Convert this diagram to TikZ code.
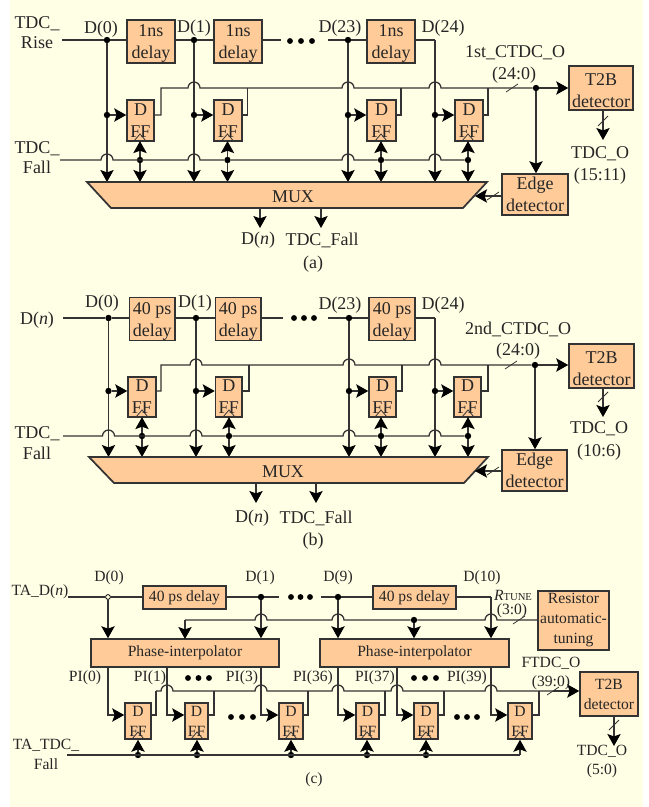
\documentclass[tikz,border=0pt]{standalone}
\usepackage{fontspec}
\setmainfont{Liberation Serif}
\usetikzlibrary{arrows.meta}
\definecolor{bgc}{HTML}{FFFFE6}
\definecolor{boxc}{HTML}{FFCC99}
\definecolor{wirec}{HTML}{333333}
\newcommand\fa{\fontsize{13.5}{16.6}\selectfont}
\newcommand\fc{\fontsize{11.7}{15}\selectfont}
\newcommand\lowr{\rule{0pt}{12.5pt}}
\tikzset{
 x=0.75pt,y=-0.75pt,
 wire/.style={draw=wirec,line width=0.95pt},
 arr/.style={wire,-{Stealth[length=9pt,width=10pt,inset=1.8pt,color=black]}},
 thin wire/.style={draw=wirec,line width=0.6pt},
 dot/.style={circle,fill=black,inner sep=0pt,minimum size=4.8pt},
 odot/.style={circle,draw=black,fill=bgc,inner sep=0pt,minimum size=3.6pt,line width=0.6pt},
 box/.style={draw=wirec,fill=boxc,line width=1.15pt,inner sep=0pt,align=center,text=black!85},
 lab/.style={inner sep=0pt,align=center,text=black!85},
}
% \bx[font]{name}{x1}{y1}{x2}{y2}{text}
\newcommand\bx[6][\fa]{\node[box,font=#1,minimum width={(#5-#3)*0.75pt},minimum height={(#6-#4)*0.75pt}] (#2) at ({(#3+#5)/2},{(#4+#6)/2}) {\bxtext};}
\newcommand\hop[2]{-- ({#1-6},#2) arc[start angle=180,end angle=0,radius=4.5pt]}
\newcommand\busslash[2]{\draw[thin wire] ({#1-6},{#2+4}) -- ({#1+6},{#2-4});}
\newcommand\vslash[2]{\draw[thin wire] ({#1-5},{#2+5}) -- ({#1+5},{#2-5});}
\newcommand\dd[3]{\fill (#1,#3) circle (2.2pt) (#2,#3) circle (2.2pt) ({(#1+#2)/2},#3) circle (2.2pt);}
% one flip-flop slice of panels (a) and (b)
\newcommand\slice[7]{% prefix, index, vx, left, right, jog, clock
 \def\bxtext{D\\FF}\bx{#1ff#2}{#4}{\ytop}{#5}{\ybot}
 \draw[thin wire] ({#7-6},\ybot) -- (#7,{\ybot-7}) -- ({#7+6},\ybot);
 \node[dot] (#1in#2) at (#3,\yin) {};
 \draw[arr] (#1in#2) -- (#1ff#2.west |- #1in#2);
 \coordinate (#1q#2) at (#1ff#2.east |- #1in#2);
 \node[dot] (#1ck#2) at (#7,\yfall) {};
 \draw[arr,shorten >=-0.5pt] (#1ck#2) -- (#1ff#2.south -| #1ck#2);
 \draw[arr] (#1ck#2) -- (#7,\ymux);
 \draw[arr] (#3,\yfall) -- (#3,\ymux);
}
\begin{document}
\begin{tikzpicture}
\useasboundingbox (0,0) rectangle (649,807);
\fill[white] (0,0) rectangle (649,807);
\fill[bgc] (10,0) rectangle (643,807);

%%%%%% panel (a)
\def\ytop{100}\def\ybot{141}\def\yin{115}\def\yfall{160}\def\ymux{182}
\def\bxtext{\lowr 1ns\\delay}
\bx{ad0}{127}{21}{175}{62}
\bx{ad1}{214}{21}{262}{62}
\bx{ad2}{367}{21}{415}{62}
\node[dot] (aj0) at (107,40) {};
\node[dot] (aj1) at (194,40) {};
\node[dot] (aj2) at (348,40) {};
\coordinate (ais) at (62,40);
\coordinate (ae1) at (281,40);
\coordinate (as2) at (328,40);
\coordinate (ac3) at (435,40);
\draw[wire] (ais) -- (aj0) -- (ad0.west |- aj0);
\draw[wire] (ad0.east |- aj0) -- (aj1) -- (ad1.west |- aj1);
\draw[wire] (ad1.east |- aj1) -- (ae1);
\draw[wire] (as2) -- (aj2) -- (ad2.west |- aj2);
\draw[wire] (ad2.east |- aj2) -- (ac3);
\draw[wire] (aj0) -- (107,160);
\draw[wire] (aj1) -- (194,160);
\draw[wire] (aj2) -- (348,160);
\draw[wire] (ac3) -- (435,160);
\dd{290}{312}{41}
\slice{a}{0}{107}{127}{154}{161}{140}
\slice{a}{1}{194}{214}{242}{247.5}{227.5}
\slice{a}{2}{348}{367}{396}{401}{381}
\slice{a}{3}{435}{455}{483}{488}{468}
\def\bxtext{\lowr T2B\\detector}\bx{at2b}{569}{66}{633}{110}
\def\bxtext{Edge\\detector}\bx{aedge}{502}{174}{568}{215}
\node[dot] (abus) at (536,88) {};
\draw[wire] (aq0) -- (161,115) -- (161,88) \hop{194}{88} \hop{348}{88} \hop{435}{88} -- (abus);
\draw[arr] (abus) -- (at2b.west |- abus);
\draw[wire] (aq1) -- (247.5,115) -- (247.5,88);
\draw[wire] (aq2) -- (401,115) -- (401,88);
\draw[wire] (aq3) -- (488,115) -- (488,88);
\draw[arr] (abus) -- (aedge.north -| abus);
\busslash{512}{88}
\coordinate (afs) at (60,160);
\draw[wire] (afs) \hop{107}{160} \hop{194}{160} -- (ack1);
\draw[wire] (ack1) \hop{348}{160} -- (ack2);
\draw[wire] (ack2) \hop{435}{160} -- (ack3);
\draw[wire,draw=wirec,fill=boxc,line width=1.3pt] (87,182) coordinate (amtl) -- (487,182) coordinate (amtr) -- (463,208) coordinate (ambr) -- (111,208) coordinate (ambl) -- cycle;
\node[lab,font=\fa] (amux) at (293,197) {MUX};
\coordinate (aedgein) at (475,196);
\draw[arr] (aedge.west |- aedgein) -- (aedgein);
\busslash{493}{196}
\coordinate (ao1) at (260,228); \coordinate (ao2) at (321,228);
\draw[arr] (260,208) -- (ao1);
\draw[arr] (321,208) -- (ao2);
\draw[arr] (at2b.south -| 603,110) -- (603,140);
\vslash{603}{121}
\foreach \t/\xx/\yy in {TDC\_/37/24,Rise/37/43,TDC\_/37/149,Fall/37/167,D(0)/101/29,D(1)/194/28,D(23)/340/28,D(24)/443/28,1st\_CTDC\_O/515/53,(24:0)/514/75,TDC\_O/600/154,(15:11)/600/176,TDC\_Fall/322/240,(a)/313/264}
 \node[lab,font=\fa] at (\xx,\yy) {\t};
\node[lab,font=\fa] at (258,240) {D(\textit{n})};

%%%%%% panel (b)
\def\ytop{377}\def\ybot{417}\def\yin{391}\def\yfall{436}\def\ymux{457}
\def\bxtext{\lowr 40 ps\\delay}
\bx{bd0}{129.5}{299}{175}{339}
\bx{bd1}{215.5}{299}{261}{339}
\bx{bd2}{369}{299}{415}{339}
\node[dot] (bj0) at (108.5,318) {};
\node[dot] (bj1) at (196,318) {};
\node[dot] (bj2) at (349,318) {};
\coordinate (bis) at (63,318);
\coordinate (be1) at (283,318);
\coordinate (bs2) at (328,318);
\coordinate (bc3) at (435,318);
\draw[wire] (bis) -- (bj0) -- (bd0.west |- bj0);
\draw[wire] (bd0.east |- bj0) -- (bj1) -- (bd1.west |- bj1);
\draw[wire] (bd1.east |- bj1) -- (be1);
\draw[wire] (bs2) -- (bj2) -- (bd2.west |- bj2);
\draw[wire] (bd2.east |- bj2) -- (bc3);
\draw[wire] (bj0) -- (108.5,436);
\draw[wire] (bj1) -- (196,436);
\draw[wire] (bj2) -- (349,436);
\draw[wire] (bc3) -- (435,436);
\dd{294}{314}{318}
\slice{b}{0}{108.5}{128}{156}{161}{142}
\slice{b}{1}{196}{215.5}{242}{249}{229}
\slice{b}{2}{349}{369}{396}{402}{381}
\slice{b}{3}{435}{454}{481}{488}{468}
\def\bxtext{\lowr T2B\\detector}\bx{bt2b}{569}{344}{634}{388}
\def\bxtext{Edge\\detector}\bx{bedge}{502}{450}{567}{491}
\node[dot] (bbus) at (535,365) {};
\draw[wire] (bq0) -- (161,391) -- (161,365) \hop{196}{365} \hop{349}{365} \hop{435}{365} -- (bbus);
\draw[arr] (bbus) -- (bt2b.west |- bbus);
\draw[wire] (bq1) -- (249,391) -- (249,365);
\draw[wire] (bq2) -- (402,391) -- (402,365);
\draw[wire] (bq3) -- (488,391) -- (488,365);
\draw[arr] (bbus) -- (bedge.north -| bbus);
\busslash{511}{365}
\coordinate (bfs) at (63,436);
\draw[wire] (bfs) \hop{108.5}{436} \hop{196}{436} -- (bck1);
\draw[wire] (bck1) \hop{349}{436} -- (bck2);
\draw[wire] (bck2) \hop{435}{436} -- (bck3);
\draw[wire,draw=wirec,fill=boxc,line width=1.3pt] (89,457) coordinate (bmtl) -- (488,457) coordinate (bmtr) -- (464,483) coordinate (bmbr) -- (114,483) coordinate (bmbl) -- cycle;
\node[lab,font=\fa] (bmux) at (283,472) {MUX};
\coordinate (bedgein) at (475,471);
\draw[arr] (bedge.west |- bedgein) -- (bedgein);
\busslash{493}{471}
\coordinate (bo1) at (256,503); \coordinate (bo2) at (316,503);
\draw[arr] (256,483) -- (bo1);
\draw[arr] (316,483) -- (bo2);
\draw[arr] (603,388) -- (603,417);
\vslash{603}{397}
\foreach \t/\xx/\yy in {TDC\_/37/434,Fall/37/453,D(0)/102/303,D(1)/195/303,D(23)/340/305,D(24)/443/305,2nd\_CTDC\_O/518/329,(24:0)/518/351,TDC\_O/599/429,(10:6)/599/452,TDC\_Fall/316/518,(b)/313/541}
 \node[lab,font=\fa] at (\xx,\yy) {\t};
\node[lab,font=\fa] at (37,320) {D(\textit{n})};
\node[lab,font=\fa] at (252,518) {D(\textit{n})};

%%%%%% panel (c)
\def\bxtext{40 ps delay}
\bx[\fc]{cd0}{143}{586}{226}{609}
\bx[\fc]{cd1}{373}{586}{456}{609}
\def\bxtext{Phase-interpolator}
\bx[\fc]{cpi0}{91}{639}{279}{667}
\bx[\fc]{cpi1}{320}{639}{509}{667}
\def\bxtext{Resistor\\automatic-\\tuning}\bx[\fc]{cres}{538}{591}{609}{650}
\def\bxtext{T2B\\detector}\bx[\fc]{ct2b}{580}{672}{638}{716}
\coordinate (cis) at (68,597);
\node[odot] (cj0) at (108,597) {};
\node[dot] (cj1) at (261,597) {};
\coordinate (ce1) at (279,597);
\coordinate (cs2) at (321,597);
\node[dot] (cj2) at (338,597) {};
\coordinate (cc3) at (491,597);
\draw[wire] (cis) -- (cj0) -- (cd0.west |- cj0);
\draw[wire] (cd0.east |- cj0) -- (cj1) -- (ce1);
\draw[wire] (cs2) -- (cj2) -- (cd1.west |- cj2);
\draw[wire] (cd1.east |- cj2) -- (cc3);
\dd{291}{310}{597}
\draw[arr] (cj0) -- (cj0 |- cpi0.north);
\draw[arr] (cj1) -- (cj1 |- cpi0.north);
\draw[arr] (cj2) -- (cj2 |- cpi1.north);
\draw[arr] (cc3) -- (cc3 |- cpi1.north);
% tuning bus
\node[dot] (ctj) at (414,620) {};
\draw[wire] (cres.west |- ctj) -- (497,620) arc[start angle=0,end angle=180,radius=4.5pt] -- (ctj) -- (344,620) arc[start angle=0,end angle=180,radius=4.5pt] -- (267,620) arc[start angle=0,end angle=180,radius=4.5pt] -- (185,620);
\draw[arr] (185,620) -- (185,639);
\draw[arr] (ctj) -- (ctj |- cpi1.north);
\busslash{519}{620}
% flip-flops of panel (c): index, tap x, left, right, out, clock
\foreach \i/\vx/\fl/\fr/\jog/\ck in {0/108/125/151/156/138,1/167/185/208/214/197,2/261/279/303/308/291,3/338/356/379/385/367,4/397/414/438/444/426,5/491/508/532/539/520}{
 \def\bxtext{D\\FF}\bx[\fc]{cff\i}{\fl}{703}{\fr}{739}
 \draw[thin wire] ({\ck-6},739) -- (\ck,732) -- ({\ck+6},739);
 \coordinate (ctap\i) at (\vx,667);
 \draw[arr] (ctap\i) -- (\vx,715) -- (cff\i.west |- 0,715);
 \draw[wire] (cff\i.east |- 0,715) -- (\jog,715) -- (\jog,691);
 \coordinate (cck\i) at (\ck,755);
 \draw[arr] (cck\i) -- (cff\i.south -| cck\i);
}
\foreach \i in {0,1,2,3,4}{\node[dot] at (cck\i) {};}
\draw[wire] (67,755) coordinate (cfs) -- (cck5);
\draw[wire] (156,691) \hop{167}{691} \hop{261}{691} \hop{338}{691} \hop{397}{691} \hop{491}{691} -- (553,691);
\draw[arr] (553,691) -- (ct2b.west |- 0,691);
\busslash{553}{691}
\draw[arr] (ct2b.south -| 614,716) -- (614,746);
\vslash{614}{725}
\dd{188}{209}{678}
\dd{414}{436}{678}
\dd{231}{253}{717}
\dd{457}{477}{717}
\foreach \t/\xx/\yy in {TA\_D(\textit{n})/40/592,TA\_TDC\_/46/745,Fall/46/764,D(0)/109/578,D(1)/260/578,D(9)/338/578,D(10)/482/578,(3:0)/512/611,FTDC\_O/551/663,(39:0)/551/683,TDC\_O/602/751,(5:0)/602/771,PI(0)/85/678,PI(1)/150/678,PI(3)/242/678,PI(36)/313/678,PI(37)/375/678,PI(39)/467/678,(c)/314/780}
 \node[lab,font=\fc] at (\xx,\yy) {\t};
\node[lab,font=\fc] at (513,595) {\textit{R}{\fontsize{8}{8}\selectfont TUNE}};
\end{tikzpicture}
\end{document}
